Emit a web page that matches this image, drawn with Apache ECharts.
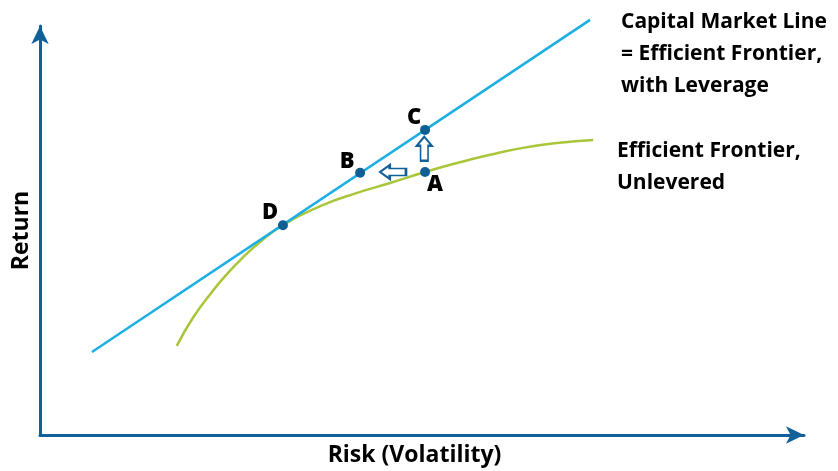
<!DOCTYPE html>
<html>
<head>
<meta charset="utf-8">
<script src="https://cdn.jsdelivr.net/npm/echarts@6/dist/echarts.min.js"></script>
<style>
  html, body { margin: 0; padding: 0; background: #fff; }
  #chart { width: 838px; height: 471px; }
</style>
</head>
<body>
<div id="chart"></div>
<script>
// Capital Market Line: a straight line tangent to the frontier at D
const cmlRisk = [6.8, 72.0];
const cmlReturn = [20.3, 101.5];

// Unlevered efficient frontier (risk, return)
const frontierRisk = [17.9, 20.0, 22.3, 24.5, 26.6, 28.8, 31.8, 37.0, 41.5, 45.8, 50.4, 54.6, 58.9, 63.2, 67.7, 72.4];
const frontierReturn = [21.8, 28.6, 34.5, 39.4, 43.5, 47.2, 51.3, 56.2, 59.2, 61.6, 64.3, 66.5, 68.5, 70.2, 71.4, 72.1];

// Named portfolios
const pointNames = ['D', 'B', 'C', 'A'];
const pointRisk = [31.8, 41.9, 50.4, 50.4];
const pointReturn = [51.3, 64.1, 74.6, 64.3];

// Movement arrows: A -> C (more return, leverage) and A -> B (less risk)
const moveRisk = [50.3, 46.2];
const moveReturn = [70.0, 64.3];
const moveDirection = ['up', 'left'];

const axisColor = '#11609a';
const dotColor = '#0f5f94';
const fontFamily = '"Open Sans", Roboto, "Liberation Sans", sans-serif';

const zip = (xs, ys) => xs.map((x, i) => [x, ys[i]]);

const labelOffsets = {
  D: [-13, -12],
  B: [-13, -11],
  C: [-11, -12],
  A: [10, 13]
};

const arrowPath = 'path://M7,0 L14,9 L10.5,9 L10.5,24 L3.5,24 L3.5,9 L0,9 Z';

const chart = echarts.init(document.getElementById('chart'), null, { renderer: 'canvas' });

chart.setOption({
  animation: false,
  backgroundColor: '#ffffff',
  grid: { left: 40, right: 34, top: 26, bottom: 36, containLabel: false, outerBoundsMode: 'none' },
  xAxis: {
    type: 'value',
    min: 0,
    max: 100,
    name: 'Risk (Volatility)',
    nameLocation: 'middle',
    nameGap: 9,
    nameTextStyle: { fontFamily, fontWeight: 'bold', fontSize: 23, color: '#000', padding: [0, 15, 0, 0] },
    axisLine: {
      show: true,
      symbol: ['none', 'arrow'],
      symbolSize: [13, 18],
      lineStyle: { color: axisColor, width: 3 }
    },
    axisTick: { show: false },
    axisLabel: { show: false },
    splitLine: { show: false }
  },
  yAxis: {
    type: 'value',
    min: 0,
    max: 100,
    name: 'Return',
    nameLocation: 'middle',
    nameRotate: 90,
    nameGap: 7,
    nameTextStyle: { fontFamily, fontWeight: 'bold', fontSize: 23, color: '#000' },
    axisLine: {
      show: true,
      symbol: ['none', 'arrow'],
      symbolSize: [13, 18],
      lineStyle: { color: axisColor, width: 3 }
    },
    axisTick: { show: false },
    axisLabel: { show: false },
    splitLine: { show: false }
  },
  graphic: [
    {
      type: 'text',
      left: 621,
      top: 6,
      style: {
        text: 'Capital Market Line\n= Efficient Frontier,\nwith Leverage',
        font: 'bold 21px ' + fontFamily,
        lineHeight: 32,
        fill: '#000'
      }
    },
    {
      type: 'text',
      left: 617,
      top: 135,
      style: {
        text: 'Efficient Frontier,\nUnlevered',
        font: 'bold 21px ' + fontFamily,
        lineHeight: 32,
        fill: '#000'
      }
    }
  ],
  series: [
    {
      name: 'Capital Market Line',
      type: 'line',
      data: zip(cmlRisk, cmlReturn),
      showSymbol: false,
      clip: false,
      lineStyle: { color: '#1aaee6', width: 2.5 },
      z: 3
    },
    {
      name: 'Efficient Frontier',
      type: 'line',
      data: zip(frontierRisk, frontierReturn),
      smooth: true,
      showSymbol: false,
      lineStyle: { color: '#a9c63b', width: 2.5 },
      z: 2
    },
    {
      name: 'Portfolios',
      type: 'scatter',
      data: pointNames.map((n, i) => ({
        name: n,
        value: [pointRisk[i], pointReturn[i]],
        label: { offset: labelOffsets[n] }
      })),
      symbolSize: 10,
      itemStyle: { color: dotColor, opacity: 1 },
      label: {
        show: true,
        position: 'inside',
        formatter: '{b}',
        fontFamily,
        fontWeight: 800,
        fontSize: 22,
        color: '#000'
      },
      z: 5
    },
    {
      name: 'Moves',
      type: 'scatter',
      data: moveRisk.map((x, i) => ({
        value: [x, moveReturn[i]],
        symbolRotate: moveDirection[i] === 'left' ? 90 : 0,
        symbolSize: moveDirection[i] === 'left' ? [14, 26] : [15, 24]
      })),
      symbol: arrowPath,
      itemStyle: { color: '#ffffff', borderColor: axisColor, borderWidth: 2, opacity: 1 },
      z: 4
    }
  ]
});
</script>
</body>
</html>
